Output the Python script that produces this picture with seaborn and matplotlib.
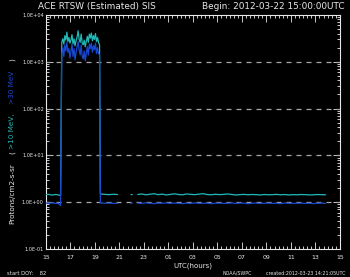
import numpy as np
import pandas as pd
import matplotlib
matplotlib.use("Agg")
import matplotlib.pyplot as plt
import matplotlib.ticker as mticker
import seaborn as sns

# ---------------- data ----------------
# hours since 2012-03-22 15:00 UTC
pre_hours = [0.0, 0.25, 0.5, 0.75, 1.0, 1.2]
pre_p10 = [1.45, 1.47, 1.42, 1.46, 1.44, 1.38]
pre_p30 = [0.96, 0.95, 0.97, 0.94, 0.95, 0.85]

event_start, event_cadence = 1.30, 1 / 12
event_p10 = [2600, 3100, 2400, 3600, 2900, 4300, 2700, 3300, 2500, 2900,
             3800, 2400, 3100, 2200, 2800, 3400, 4600, 3000, 2600, 3900,
             2500, 2300, 2900, 2100, 2700, 3500, 2600, 3900, 3200, 4100,
             2800, 3600, 3000, 4000, 2700, 3300, 2600, 2300]
event_p30 = [1500, 2000, 1300, 2300, 1700, 2600, 1600, 1900, 1200, 1700,
             2400, 1300, 1900, 1100, 1600, 2100, 2700, 1800, 1400, 2300,
             1300, 1150, 1700, 1050, 1500, 2100, 1400, 2400, 1900, 2500,
             1600, 2200, 1800, 2500, 1500, 2000, 1500, 1400]

decay_hours = [4.45, 4.83, 5.17, 5.5, 5.85]
decay_p10 = [1.50, 1.47, 1.45, 1.48, 1.46]
decay_p30 = [0.97, 0.95, 0.96, 0.94, 0.95]

blip_hours = [6.95, 7.05]
blip_p10 = [1.46, 1.45]
blip_p30 = [0.95, 0.96]

late_start, late_cadence = 7.5, 1 / 3
late_p10 = [1.46, 1.50, 1.44, 1.48, 1.52, 1.45, 1.49, 1.43, 1.47, 1.51,
            1.46, 1.44, 1.50, 1.47, 1.45, 1.49, 1.52, 1.46, 1.44, 1.48,
            1.45, 1.47, 1.50, 1.46, 1.43, 1.45, 1.47, 1.44, 1.46, 1.45,
            1.43, 1.46, 1.44, 1.45, 1.47, 1.44, 1.46, 1.43, 1.45, 1.44,
            1.46, 1.45, 1.43, 1.44, 1.46, 1.45, 1.44]
late_p30 = [0.96, 0.94, 0.97, 0.95, 0.93, 0.96, 0.95, 0.97, 0.94, 0.96,
            0.95, 0.93, 0.96, 0.94, 0.97, 0.95, 0.94, 0.96, 0.93, 0.95,
            0.96, 0.94, 0.95, 0.97, 0.94, 0.96, 0.95, 0.93, 0.95, 0.96,
            0.94, 0.95, 0.96, 0.94, 0.95, 0.93, 0.96, 0.95, 0.94, 0.95,
            0.96, 0.94, 0.95, 0.93, 0.95, 0.96, 0.94]

x_tick_labels = ["15", "17", "19", "21", "23", "01", "03", "05",
                 "07", "09", "11", "13", "15"]
y_tick_labels = ["1.0E-01", "1.0E+00", "1.0E+01", "1.0E+02", "1.0E+03", "1.0E+04"]

# --------------- build table ---------------
event_hours = list(event_start + event_cadence * np.arange(len(event_p10)))
late_hours = list(late_start + late_cadence * np.arange(len(late_p10)))

rows = []
def add(seg, hours, p10, p30):
    for h, a, b in zip(hours, p10, p30):
        rows.append((seg, h, a, ">10 MeV"))
        rows.append((seg, h, b, ">30 MeV"))

add(0, pre_hours + event_hours + decay_hours,
    pre_p10 + event_p10 + decay_p10, pre_p30 + event_p30 + decay_p30)
add(1, blip_hours, blip_p10, blip_p30)
add(2, late_hours, late_p10, late_p30)
df = pd.DataFrame(rows, columns=["segment", "hour", "flux", "channel"])

# --------------- plot ---------------
sns.set_style("dark")
plt.rcParams["font.family"] = ["DejaVu Sans"]
C10 = "#22b8b8"
C30 = "#1848d0"
FG = "#e8e8e8"

fig = plt.figure(figsize=(3.5, 2.77), dpi=100, facecolor="black")
ax = fig.add_axes([0.131, 0.101, 0.840, 0.845])
ax.set_facecolor("black")

for y in [1, 10, 100, 1000]:
    ax.axhline(y, color="#a8a8a8", lw=0.9, ls=(0, (4, 4)), zorder=1)

sns.lineplot(data=df, x="hour", y="flux", hue="channel", units="segment",
             estimator=None, sort=False, palette={">10 MeV": C10, ">30 MeV": C30},
             hue_order=[">10 MeV", ">30 MeV"], lw=0.9, legend=False, ax=ax, zorder=3)

ax.set_yscale("log")
ax.set_ylim(0.1, 1e4)
ax.set_xlim(0, 24)
ax.grid(False)

ax.set_xticks(np.arange(0, 24.1, 2))
ax.set_xticklabels(x_tick_labels)
ax.xaxis.set_minor_locator(mticker.MultipleLocator(1 / 3))
ax.set_yticks([0.1, 1, 10, 100, 1000, 10000])
ax.set_yticklabels(y_tick_labels)
ax.yaxis.set_minor_locator(mticker.LogLocator(base=10, subs=np.arange(2, 10)))
ax.yaxis.set_minor_formatter(mticker.NullFormatter())

ax.tick_params(which="both", direction="in", colors=FG, top=True, right=True,
               bottom=True, left=True, width=0.6)
ax.tick_params(which="major", length=5)
ax.tick_params(which="minor", length=2.5)
ax.tick_params(axis="x", labelsize=4.5, labelcolor=FG, pad=4.5)
ax.tick_params(axis="y", labelsize=3.6, labelcolor=FG, pad=1.5)
for s in ax.spines.values():
    s.set_color(FG)
    s.set_linewidth(0.8)

ax.set_xlabel("UTC(hours)", color=FG, fontsize=5, labelpad=1.5)
ax.set_ylabel("")

# titles
fig.text(0.108, 0.978, "ACE RTSW (Estimated) SIS", color=FG, fontsize=6.4,
         ha="left", va="center")
fig.text(0.985, 0.978, "Begin: 2012-03-22 15:00:00UTC", color=FG, fontsize=6.4,
         ha="right", va="center")

# y label pieces
yl = 0.034
fig.text(yl, 0.301, "Protons/cm2-s-sr", color=FG, fontsize=5.2, rotation=90,
         ha="center", va="center")
fig.text(yl, 0.448, "(", color=FG, fontsize=5.2, rotation=90, ha="center", va="center")
fig.text(yl, 0.527, ">10 MeV,", color=C10, fontsize=5.2, rotation=90,
         ha="center", va="center")
fig.text(yl, 0.684, ">30 MeV", color=C30, fontsize=5.2, rotation=90,
         ha="center", va="center")
fig.text(yl, 0.783, ")", color=FG, fontsize=5.2, rotation=90, ha="center", va="center")

# footer
fig.text(0.02, 0.014, "start DOY:    82", color=FG, fontsize=3.8, ha="left", va="center")
fig.text(0.637, 0.014, "NOAA/SWPC", color=FG, fontsize=3.4, ha="left", va="center")
fig.text(0.988, 0.014, "created:2012-03-23 14:21:05UTC", color=FG, fontsize=3.4,
         ha="right", va="center")

fig.savefig("out.png", dpi=100, facecolor="black")
